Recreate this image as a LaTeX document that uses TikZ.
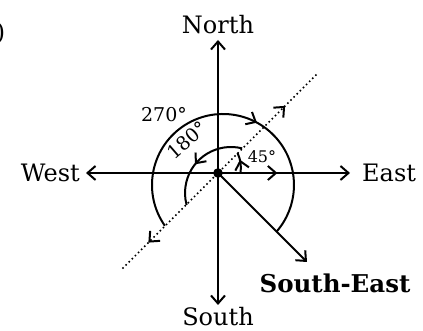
\documentclass[tikz,border=0pt]{standalone}
\usepackage{fontspec}
\setmainfont{DejaVu Serif}
\usetikzlibrary{arrows.meta,decorations.markings}
\tikzset{
  ax/.style={line width=2pt},
  >={Straight Barb[length=8pt,width=14pt]},
  midarr/.style={postaction={decorate,decoration={markings,mark=at position #1 with {\arrow[line width=2pt]{>}}}}},
  midarrback/.style={postaction={decorate,decoration={markings,mark=at position #1 with {\arrow[line width=2pt]{<}}}}},
  dir/.style={font=\fontsize{24}{28}\selectfont,inner sep=0pt},
  deg/.style={font=\fontsize{19}{23}\selectfont,inner sep=0pt},
  dotline/.style={line width=2.2pt,line cap=round,dash pattern=on 0pt off 4.4pt}
}
\begin{document}
\begin{tikzpicture}[x=1pt,y=1pt]
\useasboundingbox (0,0) rectangle (423,331);
\coordinate (C) at (218,158);
\coordinate (N) at (218,291);
\coordinate (S) at (218,26);
\coordinate (W) at (86,158);
\coordinate (E) at (350,158);
\coordinate (SE) at (307,69);
\coordinate (D1) at (123,63);
\coordinate (D2) at (316,256);
\coordinate (A1) at (240.5,158);
\coordinate (A2) at (237.5,178);
% labels
\node[dir] (paren) at (0.5,298) {)};
\node[dir] (north) at (218,306) {North};
\node[dir] (south) at (218,14) {South};
\node[dir,anchor=east] (west) at (80,158) {West};
\node[dir,anchor=west] (east) at (362,158) {East};
\node[dir,font=\fontsize{24.5}{28}\selectfont\bfseries] (se) at (335,48) {South-East};
% axes
\draw[ax,->] (C) -- (N);
\draw[ax,->] (C) -- (S);
\draw[ax,->] (C) -- (W);
\draw[ax,->,midarr=0.45] (C) -- (E);
\draw[ax,->] (C) -- (SE);
% dotted line
\draw[dotline,midarr=0.84,midarrback=0.17] (D1) -- (D2);
% arcs
\draw[ax,midarr=0.6] (223,146) ++(215:71pt) arc[start angle=215,end angle=-41,radius=71pt];
\draw[ax,midarr=0.55] (231,138) ++(76:46pt) arc[start angle=76,end angle=195,radius=46pt];
\draw[ax,midarr=0.65] (A1) .. controls (241.5,165) and (240.5,172) .. (A2);
\fill (C) circle (4.8pt);
% degree labels
\node[deg] (l270) at (164,216) {270°};
\node[deg,rotate=41] (l180) at (187,191) {180°};
\node[deg,font=\fontsize{16}{20}\selectfont] (l45) at (262,174) {45°};
\end{tikzpicture}
\end{document}
